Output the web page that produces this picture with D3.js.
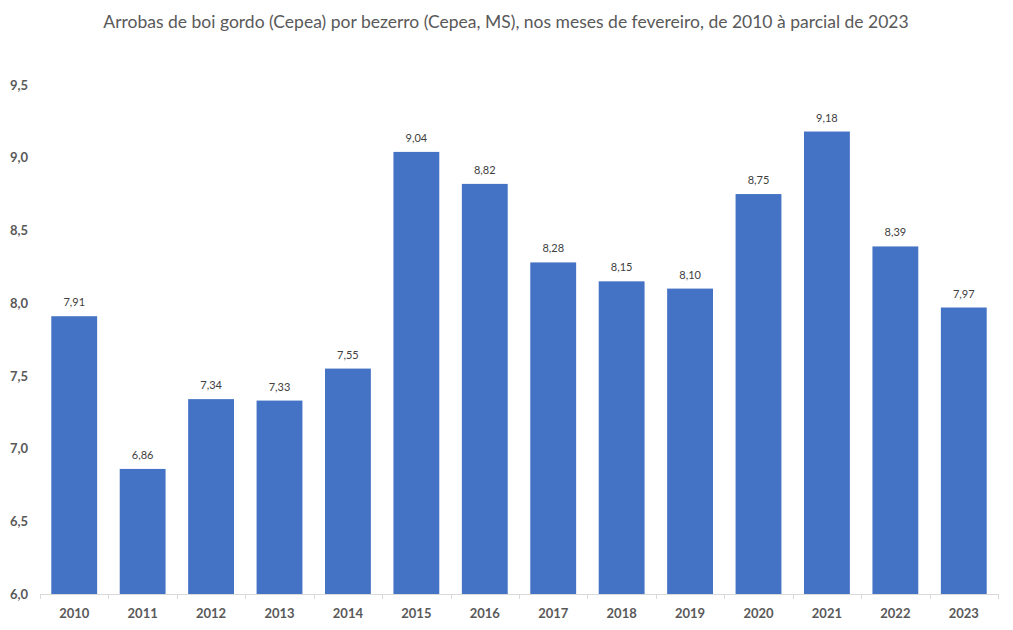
<!DOCTYPE html>
<html>
<head>
<meta charset="utf-8">
<script src="https://cdn.jsdelivr.net/npm/d3@7"></script>
<style>
  body { margin: 0; background: #fff; }
  text { font-family: Lato, "Open Sans", sans-serif; }
</style>
</head>
<body>
<svg></svg>
<script>
// data
var years = ["2010","2011","2012","2013","2014","2015","2016","2017","2018","2019","2020","2021","2022","2023"]
var values = [7.91, 6.86, 7.34, 7.33, 7.55, 9.04, 8.82, 8.28, 8.15, 8.10, 8.75, 9.18, 8.39, 7.97]
var yTicks = [6.0, 6.5, 7.0, 7.5, 8.0, 8.5, 9.0, 9.5]
var title = "Arrobas de boi gordo (Cepea) por bezerro (Cepea, MS), nos meses de fevereiro, de 2010 à parcial de 2023"

var W = 1013, H = 630
var margin = { top: 85, right: 15, bottom: 36, left: 40 }
var width = W - margin.left - margin.right
var height = H - margin.top - margin.bottom

var svg = d3.select("svg").attr("width", W).attr("height", H)

var fmt = function(v, n) { return v.toFixed(n).replace(".", ",") }

svg.append("text")
  .attr("x", 506)
  .attr("y", 28)
  .attr("text-anchor", "middle")
  .attr("fill", "#595959")
  .style("font-size", "17.5px")
  .text(title)

var g = svg.append("g")
  .attr("transform", "translate(" + margin.left + "," + margin.top + ")")

var xScale = d3.scaleBand()
  .domain(years)
  .range([0, width])
  .paddingInner(0.33)
  .paddingOuter(0.165)

var yScale = d3.scaleLinear()
  .domain([6, 9.5])
  .range([height, 0])

// bars
g.selectAll(".bar")
  .data(values)
  .enter().append("rect")
  .attr("class", "bar")
  .attr("x", function(d, i) { return xScale(years[i]) })
  .attr("width", xScale.bandwidth())
  .attr("y", function(d) { return yScale(d) })
  .attr("height", function(d) { return height - yScale(d) })
  .attr("fill", "#4472C4")

// value labels
g.selectAll(".lbl")
  .data(values)
  .enter().append("text")
  .attr("class", "lbl")
  .attr("x", function(d, i) { return xScale(years[i]) + xScale.bandwidth() / 2 })
  .attr("y", function(d) { return yScale(d) - 10 })
  .attr("text-anchor", "middle")
  .attr("fill", "#404040")
  .style("font-size", "11px")
  .text(function(d) { return fmt(d, 2) })

// y axis (labels only)
var yAxis = d3.axisLeft(yScale)
  .tickValues(yTicks)
  .tickSize(0)
  .tickPadding(12)
  .tickFormat(function(d) { return fmt(d, 1) })

var ya = g.append("g").call(yAxis)
ya.select(".domain").remove()
ya.selectAll("text")
  .attr("fill", "#595959")
  .style("font-size", "13px")
  .style("font-weight", "bold")
  .style("font-family", "Lato, sans-serif")

// x axis line with boundary ticks
var step = xScale.step()
var bounds = d3.range(years.length + 1).map(function(i) { return i * width / years.length })
g.append("line")
  .attr("x1", 0).attr("x2", width)
  .attr("y1", height + 0.5).attr("y2", height + 0.5)
  .attr("stroke", "#D9D9D9")
g.selectAll(".btick")
  .data(bounds)
  .enter().append("line")
  .attr("class", "btick")
  .attr("x1", function(d) { return Math.round(d) + 0.5 })
  .attr("x2", function(d) { return Math.round(d) + 0.5 })
  .attr("y1", height).attr("y2", height + 5)
  .attr("stroke", "#D9D9D9")

g.selectAll(".xl")
  .data(years)
  .enter().append("text")
  .attr("class", "xl")
  .attr("x", function(d) { return xScale(d) + xScale.bandwidth() / 2 })
  .attr("y", height + 24)
  .attr("text-anchor", "middle")
  .attr("fill", "#595959")
  .style("font-size", "13px")
  .style("font-weight", "bold")
  .text(function(d) { return d })
</script>
</body>
</html>
